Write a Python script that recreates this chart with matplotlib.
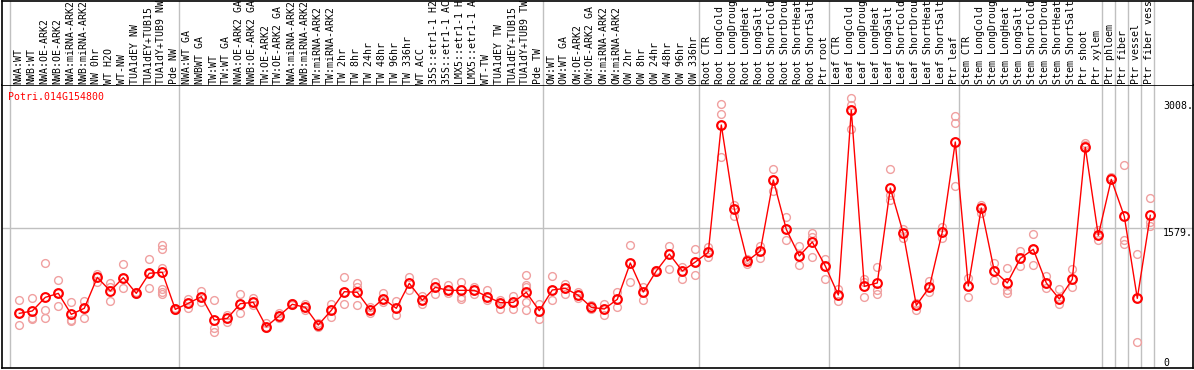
import matplotlib
matplotlib.use('Agg')
import matplotlib.pyplot as plt

W, H = 1194, 370

gene = "Potri.014G154800"
labels = [
    "NWA:WT", "NWB:WT", "NWA:OE-ARK2", "NWB:OE-ARK2", "NWA:miRNA-ARK2", "NWB:miRNA-ARK2",
    "NW 0hr", "WT H2O", "WT-NW", "TUA1dEY NW", "TUA1dEY+TUB15", "TUA1dY+TUB9 NW", "Pde NW",
    "NWA:WT GA", "NWBWT GA", "TW:WT", "TW:WT GA", "NWA:OE-ARK2 GA", "NWB:OE-ARK2 GA",
    "TW:OE-ARK2", "TW:OE-ARK2 GA", "NWA:miRNA-ARK2", "NWB:miRNA-ARK2", "TW:miRNA-ARK2",
    "TW:miRNA-ARK2", "TW 2hr", "TW 8hr", "TW 24hr", "TW 48hr", "TW 96hr", "TW 336hr",
    "WT ACC", "35S::etr1-1 H2", "35S::etr1-1 AC", "LMX5::etr1-1 H", "LMX5::etr1-1 A",
    "WT-TW", "TUA1dEY TW", "TUA1dEY+TUB15", "TUA1dY+TUB9 TW", "Pde TW",
    "OW:WT", "OW:WT GA", "OW:OE-ARK2", "OW:OE-ARK2 GA", "OW:miRNA-ARK2", "OW:miRNA-ARK2",
    "OW 2hr", "OW 8hr", "OW 24hr", "OW 48hr", "OW 96hr", "OW 336hr",
    "Root CTR", "Root LongCold", "Root LongDroug", "Root LongHeat", "Root LongSalt",
    "Root ShortCold", "Root ShortDrou", "Root ShortHeat", "Root ShortSalt", "Ptr root",
    "Leaf CTR", "Leaf LongCold", "Leaf LongDroug", "Leaf LongHeat", "Leaf LongSalt",
    "Leaf ShortCold", "Leaf ShortDrou", "Leaf ShortHeat", "Leaf ShortSalt", "Ptr leaf",
    "Stem CTR", "Stem LongCold", "Stem LongDroug", "Stem LongHeat", "Stem LongSalt",
    "Stem ShortCold", "Stem ShortDrou", "Stem ShortHeat", "Stem ShortSalt", "Ptr shoot",
    "Ptr xylem", "Ptr phloem", "Ptr fiber", "Ptr vessel", "Ptr fiber vess",
]

means = [
    615, 642, 795, 840, 604, 672, 1020, 867, 1017, 840, 1066, 1077, 660,
    728, 803, 540, 559, 724, 739, 465, 589, 717, 683, 484, 649, 859, 852, 653,
    780, 672, 953, 762, 908, 874, 874, 874, 803, 735, 739, 852, 645,
    878, 897, 818, 683, 664, 773, 1182, 855, 1092, 1283, 1092, 1193,
    1302, 2735, 1790, 1204, 1317, 2116, 1561, 1261, 1418, 1148,
    822, 2904, 919, 957, 2026, 1516, 705, 908, 1531, 2544,
    923, 1801, 1092, 957, 1234, 1336, 957, 777, 998, 2484, 1493,
    2123, 1707, 784, 1718,
]

reps = [
    [765, 615, 484], [784, 567, 551], [1178, 653, 559], [987, 694, 840],
    [739, 540, 529], [754, 567, 672], [1058, 964, 1020], [953, 915, 750],
    [1171, 897, 1017], [852, 840, 833], [1227, 897, 1066],
    [1384, 1336, 1129, 889, 859, 837], [660, 672, 649],
    [777, 672, 728], [867, 747, 803], [765, 446, 409], [597, 521, 559],
    [833, 615, 724], [792, 709, 739], [503, 465, 446], [623, 589, 559],
    [728, 705, 717], [717, 683, 653], [484, 503, 465], [724, 578, 649],
    [1024, 717, 859], [953, 915, 709], [615, 653, 690], [844, 747, 780],
    [754, 593, 672], [1024, 878, 953], [814, 717, 762], [968, 837, 908],
    [938, 848, 874], [968, 795, 777], [915, 837, 874], [882, 765, 803],
    [765, 664, 735], [807, 664, 739], [1043, 934, 915, 739, 653], [724, 555, 645],
    [1035, 765, 878], [949, 837, 897], [855, 818, 784], [709, 660, 683],
    [724, 593, 664], [855, 690, 773], [1384, 964, 1182], [915, 765, 855],
    [1092, 1103, 1081], [1373, 1110, 1283], [1141, 1002, 1092], [1339, 1043, 1193],
    [1366, 1253, 1302], [2971, 2855, 2379, 2735], [1835, 1715, 1790],
    [1171, 1204, 1223], [1373, 1234, 1317], [2236, 1992, 2116], [1700, 1441, 1561],
    [1373, 1159, 1261], [1523, 1478, 1246], [1227, 998, 1148],
    [893, 758, 822], [3039, 2960, 2690, 2904], [1002, 968, 795], [1133, 878, 833],
    [2240, 1947, 1891], [1568, 1463, 1516], [657, 705, 728], [979, 852, 908],
    [1591, 1467, 1531], [2836, 2761, 2048],
    [1009, 795, 923], [1835, 1741, 1801], [1178, 987, 1092], [1122, 878, 840],
    [1321, 1152, 1234], [1508, 1159, 1336], [1035, 897, 957], [885, 717, 777],
    [1114, 915, 998], [2536, 2510, 2484], [1441, 1553, 1493],
    [2123, 2150], [2285, 1441, 1392], [1283, 289, 784], [1913, 1647, 1598],
]

group_bounds = [0, 13, 41, 53, 63, 73, 84, 85, 86, 87, 88]
yticks = [3008, 1579, 0]
ytick_labels = ["3008.", "1579.", "0"]
grid_y = [1579]

RED = "#ff0000"
PINK = "#f0a0a0"
GRID = "#c0c0c0"
FONT = "DejaVu Sans Mono"
FS = 7.1

fig = plt.figure(figsize=(W / 100, H / 100), dpi=100)


def box(x0, y0, x1, y1):
    return [x0 / W, 1 - y1 / H, (x1 - x0) / W, (y1 - y0) / H]


CELL = 13.0
X0 = 10.0
XR = 1193
ax = fig.add_axes(box(2, 85, XR, 368))
hx = fig.add_axes(box(2, 0.5, XR, 85), sharex=ax)
xmin = (2 - X0) / CELL
xmax = (XR - X0) / CELL
ax.set_xlim(xmin, xmax)
ax.set_ylim(0, 283 * 11.255)

off = 0.715
xs = [i + off for i in range(len(means))]

for b in group_bounds:
    ax.axvline(b, color=GRID, lw=1, zorder=0)
    hx.axvline(b, color=GRID, lw=1, zorder=0)
for g in grid_y:
    ax.axhline(g, color=GRID, lw=1, zorder=0)

for x, rs in zip(xs, reps):
    ax.plot([x] * len(rs), rs, linestyle='none', marker='o', mfc='none',
            mec=PINK, ms=5.6, mew=1.0, zorder=2)

ax.plot(xs, means, color=RED, lw=1, marker='o', mfc='none', mec=RED,
        ms=6.3, mew=1.5, zorder=3)

# right-side value labels
tx = (1163 - X0) / CELL
for v, t in zip(yticks, ytick_labels):
    ax.text(tx, v, t, ha='left', va='bottom' if v == 0 else 'top',
            family=FONT, fontsize=FS, color='black')

ax.text((8 - X0) / CELL, 3053, gene, ha='left', va='center',
        family=FONT, fontsize=FS, color=RED)

for sp in ['left', 'bottom', 'top', 'right']:
    ax.spines[sp].set_color('black')
    ax.spines[sp].set_linewidth(1.2)
ax.set_xticks([])
ax.set_yticks([])

hx.set_ylim(85, 0)
hx.spines['bottom'].set_visible(False)
for sp in ['left', 'top', 'right']:
    hx.spines[sp].set_linewidth(1.2)
hx.set_xticks([])
hx.set_yticks([])
hx.tick_params(which='both', length=0)
ax.tick_params(which='both', length=0)

for x, lab in zip(xs, labels):
    hx.text(x - 0.07, 83.5, lab, rotation=90, ha='center', va='bottom',
            family=FONT, fontsize=FS, color='black', clip_on=True)

fig.savefig("out.png", dpi=100)
